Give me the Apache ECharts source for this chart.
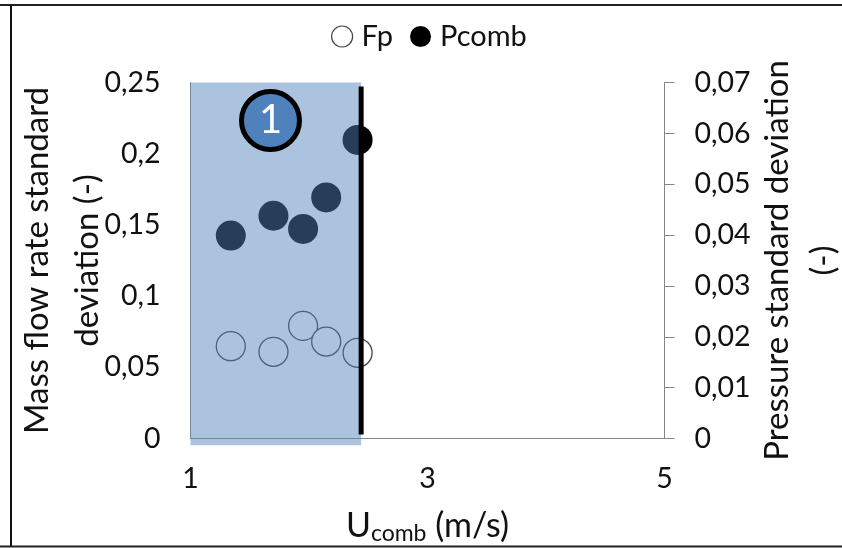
<!DOCTYPE html>
<html><head><meta charset="utf-8">
<style>html,body{margin:0;padding:0;background:#fff}#c{width:842px;height:548px}</style>
<script src="https://cdn.jsdelivr.net/npm/echarts@6/dist/echarts.min.js"></script>
</head><body><div id="c"></div>
<script>
const uComb = [1.34, 1.70, 1.95, 2.145, 2.41];
const fpValues = [0.0648, 0.0609, 0.0791, 0.0681, 0.0602];
const pcombValues = [0.0399, 0.0438, 0.0412, 0.0474, 0.0587];
const regionX = [1, 2.44];
const regionY = [-0.0047, 0.25];
const limitX = 2.44;
const limitY = [0.0028, 0.2472];
const badge = [1.675, 0.2233, '1'];
const FONT = 'Lato';
const comma = v => String(v).replace('.', ',');
const chart = echarts.init(document.getElementById('c'), null, {renderer:'canvas'});
const axisLine = {show:true, lineStyle:{color:'#868686', width:1}};
const labelStyle = {color:'#111', fontFamily:FONT, fontSize:28.5};
chart.setOption({
  animation:false,
  textStyle:{fontFamily:FONT},
  grid:{left:190.5, right:177.5, top:82.5, bottom:109.5, containLabel:false, outerBoundsMode:'none'},
  legend:{
    left:326, top:17, itemWidth:21, itemHeight:21, itemGap:17, selectedMode:false,
    data:[
      {name:'Fp', icon:'circle', itemStyle:{color:'#fff', borderColor:'#444', borderWidth:1.2}},
      {name:'Pcomb', icon:'circle', itemStyle:{color:'#000', borderColor:'#000'}}
    ],
    textStyle:{color:'#111', fontFamily:FONT, fontSize:29, padding:[0,0,0,4]}
  },
  xAxis:{
    type:'value', min:1, max:5, interval:2, splitLine:{show:false},
    axisLine:{...axisLine, onZero:false}, axisTick:{show:false},
    axisLabel:{...labelStyle, margin:26, formatter:v=>comma(v)},
    name:'U{s|comb} (m/s)', nameLocation:'middle', nameGap:68,
    nameTextStyle:{color:'#111', fontFamily:FONT, fontSize:34,
      rich:{s:{fontFamily:FONT, fontSize:23, color:'#111', verticalAlign:'bottom', padding:[16,0,0,0]}}}
  },
  yAxis:[
    {type:'value', min:0, max:0.25, interval:0.05, splitLine:{show:false},
     axisLine:axisLine, axisTick:{show:false},
     axisLabel:{...labelStyle, margin:30, formatter:comma},
     name:'Mass flow rate standard\ndeviation (-)', nameLocation:'middle', nameRotate:90, nameGap:78, nameMoveOverlap:false,
     nameTextStyle:{color:'#111', fontFamily:FONT, fontSize:33, lineHeight:50}},
    {type:'value', position:'right', min:0, max:0.07, interval:0.01, splitLine:{show:false},
     axisLine:axisLine, axisTick:{show:true, length:10, inside:false, lineStyle:{color:'#868686'}},
     axisLabel:{...labelStyle, margin:30, formatter:comma},
     name:'Pressure standard deviation\n(-)', nameLocation:'middle', nameRotate:90, nameGap:90, nameMoveOverlap:false,
     nameTextStyle:{color:'#111', fontFamily:FONT, fontSize:33, lineHeight:46}}
  ],
  series:[
    {name:'Fp', type:'scatter', yAxisIndex:0, z:2, symbolSize:29,
     data:uComb.map((x,i)=>[x,fpValues[i]]),
     itemStyle:{color:'#fff', borderColor:'#444', borderWidth:1.3, opacity:1}},
    {name:'Pcomb', type:'scatter', yAxisIndex:1, z:2, symbolSize:30,
     data:uComb.map((x,i)=>[x,pcombValues[i]]),
     itemStyle:{color:'#000', opacity:1}},
    {name:'region', type:'custom', z:3, clip:false, silent:true,
     data:[[regionX[0],regionY[0],regionX[1],regionY[1]]],
     encode:{x:[0,2], y:[1,3]},
     renderItem:(p,api)=>{
       const a=api.coord([api.value(0),api.value(1)]), b=api.coord([api.value(2),api.value(3)]);
       return {type:'rect', shape:{x:a[0],y:b[1],width:b[0]-a[0],height:a[1]-b[1]},
               style:{fill:'#4f81bd', opacity:0.48}};
     }},
    {name:'limit', type:'line', z:4, symbol:'none', silent:true, clip:false,
     data:limitY.map(y=>[limitX,y]), lineStyle:{color:'#000', width:5, cap:'butt'}},
    {name:'badge', type:'scatter', z:5, silent:true, symbolSize:58,
     data:[badge.slice(0,2)],
     itemStyle:{color:'#4f81bd', borderColor:'#000', borderWidth:5, opacity:1},
     label:{show:true, position:'inside', formatter:()=>badge[2], color:'#fff', fontFamily:FONT, fontSize:40}}
  ],
  graphic:[
    {type:'rect', silent:true, shape:{x:0,y:4,width:842,height:2}, style:{fill:'#222'}},
    {type:'rect', silent:true, shape:{x:0,y:545.5,width:842,height:2}, style:{fill:'#222'}},
    {type:'rect', silent:true, shape:{x:10,y:5,width:2,height:541}, style:{fill:'#111'}}
  ]
});
</script></body></html>
